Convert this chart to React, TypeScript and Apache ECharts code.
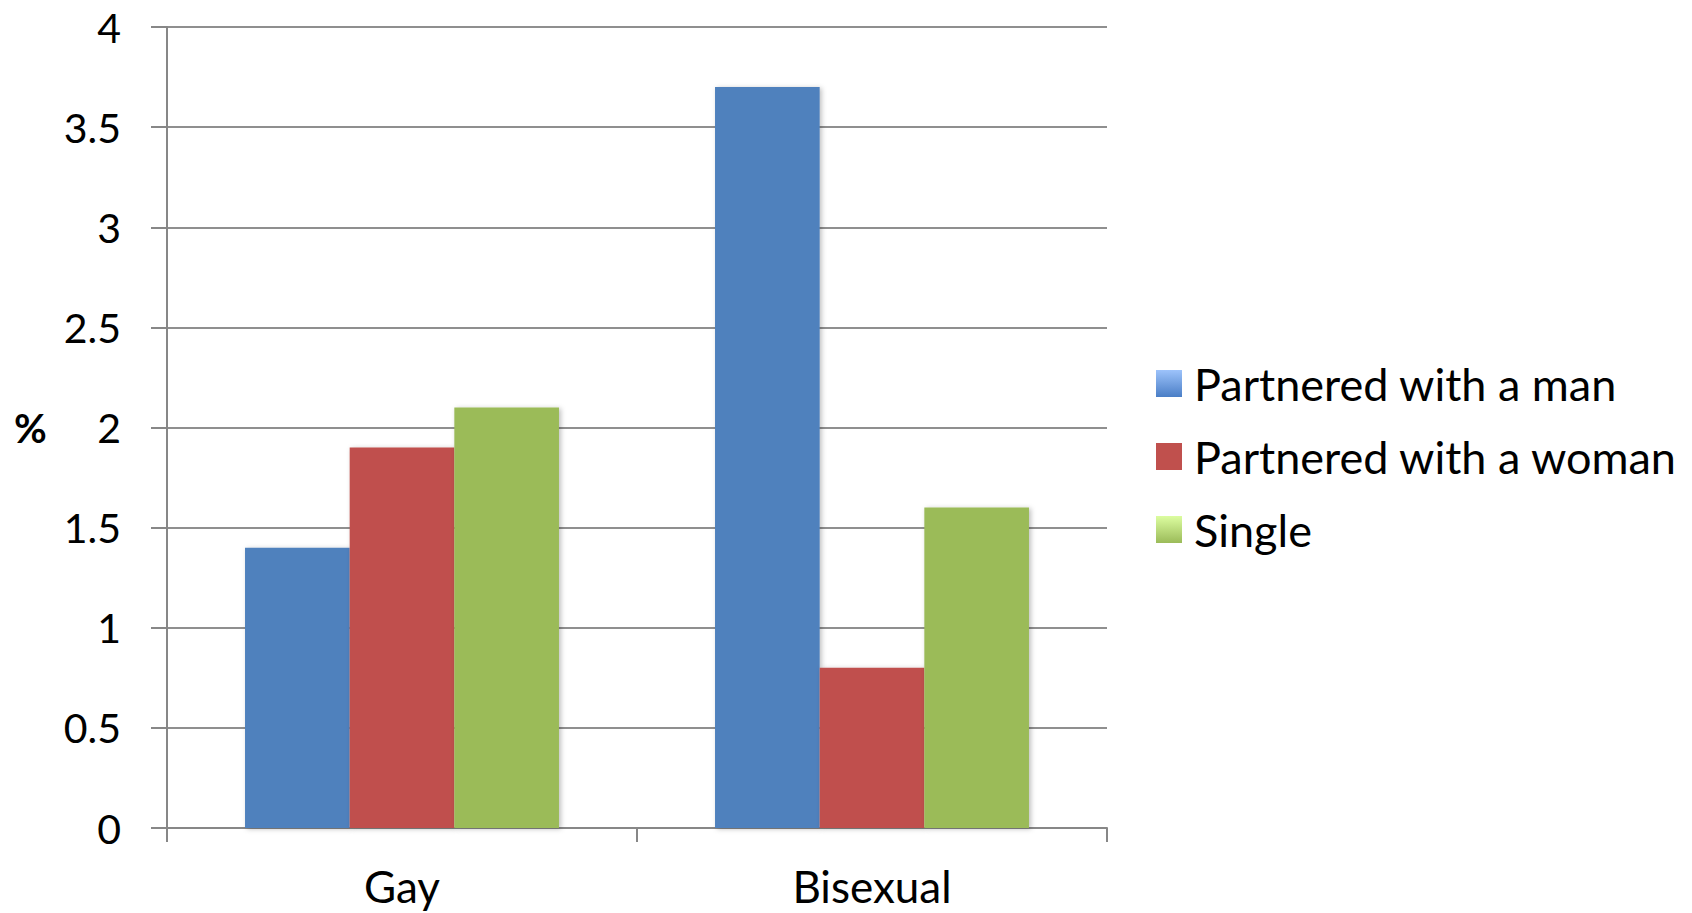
import React, { useEffect, useRef } from "react";
import * as echarts from "echarts";

const categories = ["Gay", "Bisexual"];
const seriesNames = ["Partnered with a man", "Partnered with a woman", "Single"];
const partneredWithMan = [1.4, 3.7];
const partneredWithWoman = [1.9, 0.8];
const single = [2.1, 1.6];

const FONT = "Lato, 'Noto Sans', sans-serif";
const AXIS_GRAY = "#878787";

const barShadow = {
  shadowBlur: 5,
  shadowColor: "rgba(0,0,0,0.25)",
  shadowOffsetX: 2,
  shadowOffsetY: 1,
};

export default function App() {
  const ref = useRef<HTMLDivElement>(null);

  useEffect(() => {
    if (!ref.current) return;
    const chart = echarts.init(ref.current, undefined, { renderer: "svg" });

    const vGrad = (top: string, bottom: string) =>
      new echarts.graphic.LinearGradient(0, 0, 0, 1, [
        { offset: 0, color: top },
        { offset: 1, color: bottom },
      ]);

    chart.setOption({
      animation: false,
      backgroundColor: "#ffffff",
      textStyle: { fontFamily: FONT },
      grid: { left: 167, right: 585, top: 27, bottom: 85, containLabel: false },
      legend: {
        orient: "vertical",
        left: 1151,
        top: 356,
        itemWidth: 26,
        itemHeight: 27,
        itemGap: 28,
        icon: "rect",
        textStyle: { fontSize: 45, color: "#000", fontFamily: FONT, padding: [0, 0, 0, 7] },
        data: [
          { name: seriesNames[0], itemStyle: { color: vGrad("#9dc3fb", "#4a7ec6") } },
          { name: seriesNames[1], itemStyle: { color: "#c0504d" } },
          { name: seriesNames[2], itemStyle: { color: vGrad("#dcfda0", "#9bbb59") } },
        ],
      },
      xAxis: {
        type: "category",
        data: categories,
        axisLine: { lineStyle: { color: AXIS_GRAY, width: 2 } },
        axisTick: { show: true, length: 14, lineStyle: { color: AXIS_GRAY, width: 2 } },
        axisLabel: { fontSize: 44, color: "#000", margin: 36, fontFamily: FONT },
      },
      yAxis: {
        type: "value",
        min: 0,
        max: 4,
        interval: 0.5,
        axisLine: { show: true, lineStyle: { color: AXIS_GRAY, width: 2 } },
        axisTick: { show: true, length: 16, lineStyle: { color: AXIS_GRAY, width: 2 } },
        axisLabel: { fontSize: 41, color: "#000", margin: 46, fontFamily: FONT },
        splitLine: { show: true, lineStyle: { color: "#8f8f8f", width: 2 } },
      },
      graphic: [
        {
          type: "text",
          left: 14,
          top: 408,
          style: { text: "%", fontSize: 40, fontWeight: "bold", fill: "#000", fontFamily: FONT },
        },
      ],
      series: [
        {
          name: seriesNames[0],
          type: "bar",
          data: partneredWithMan,
          barGap: "0%",
          barCategoryGap: "33.2%",
          itemStyle: { color: "#4f81bd", ...barShadow },
        },
        {
          name: seriesNames[1],
          type: "bar",
          data: partneredWithWoman,
          itemStyle: { color: "#c0504d", ...barShadow },
        },
        {
          name: seriesNames[2],
          type: "bar",
          data: single,
          itemStyle: { color: "#9bbb59", ...barShadow },
        },
      ],
    });

    return () => chart.dispose();
  }, []);

  return (
    <div
      ref={ref}
      style={{ position: "fixed", left: 0, top: 0, width: 1692, height: 913, background: "#fff" }}
    />
  );
}
